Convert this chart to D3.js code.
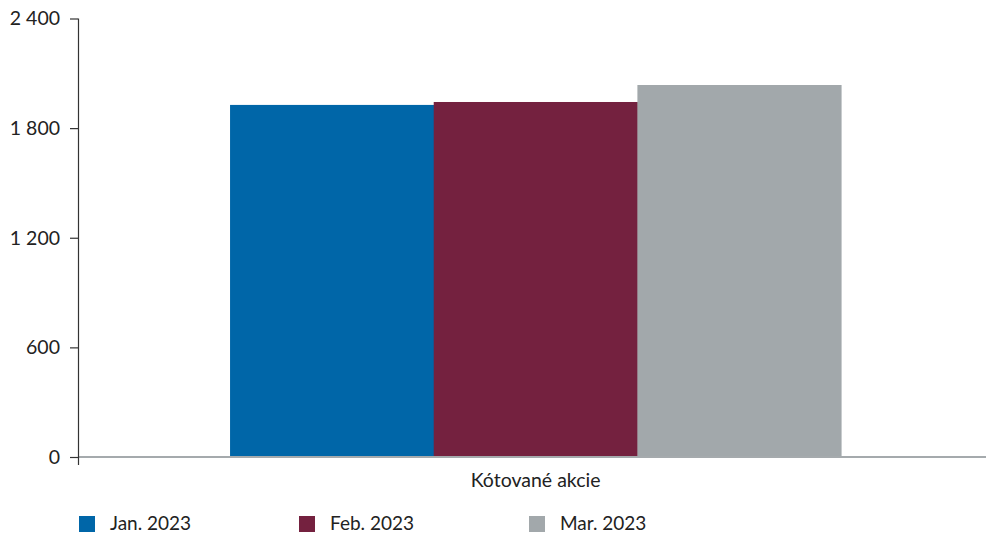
<!DOCTYPE html>
<html>
<head>
<meta charset="utf-8">
<script src="https://cdn.jsdelivr.net/npm/d3@7"></script>
<style>
  html, body { margin: 0; padding: 0; background: #fff; }
  svg { display: block; font-family: Lato, "Open Sans", sans-serif; }
</style>
</head>
<body>
<svg id="chart" width="986" height="534"></svg>
<script>
const categories = ["Kótované akcie"];
const seriesNames = ["Jan. 2023", "Feb. 2023", "Mar. 2023"];
const seriesValues = [1927, 1943, 2036];
const seriesColors = ["#0066a8", "#74213f", "#a2a8ab"];
const yTicks = [0, 600, 1200, 1800, 2400];

(function () {
const svg = d3.select("#chart");
const mLeft = 78, mRight = 986, mTop = 18.5, mBottom = 457;

const y = d3.scaleLinear().domain([0, 2400]).range([mBottom, mTop]);
const x0 = d3.scaleBand().domain(categories).range([mLeft, mRight])
  .paddingInner(0).paddingOuter(0.243).align(0.512);
const x1 = d3.scaleBand().domain(seriesNames).range([0, x0.bandwidth()]).padding(0);

const fmt = v => d3.format(",")(v).replace(/,/g, " ");

// bars
const g = svg.append("g");
categories.forEach((c) => {
  g.selectAll(null).data(seriesNames).enter().append("rect")
    .attr("x", d => x0(c) + x1(d))
    .attr("width", x1.bandwidth() + 0.5)
    .attr("y", (d, i) => y(seriesValues[i]))
    .attr("height", (d, i) => y(0) - y(seriesValues[i]))
    .attr("fill", (d, i) => seriesColors[i]);
});

// baseline
svg.append("line")
  .attr("x1", mLeft).attr("x2", mRight)
  .attr("y1", y(0)).attr("y2", y(0))
  .attr("stroke", "#a5aaad").attr("stroke-width", 2);

// y axis
const yAxis = d3.axisLeft(y).tickValues(yTicks).tickFormat(fmt).tickSize(8).tickPadding(10);
const ya = svg.append("g").attr("transform", `translate(${mLeft},0)`).call(yAxis);
ya.select(".domain").remove();
ya.append("line").attr("x1", 0.5).attr("x2", 0.5).attr("y1", mTop).attr("y2", mBottom + 8)
  .attr("stroke", "#333").attr("stroke-width", 1.2);
ya.selectAll(".tick line").attr("stroke", "#333").attr("stroke-width", 1.2);
ya.selectAll(".tick text").attr("fill", "#222").style("font-size", "19.5px")
  .style("font-family", "Lato, sans-serif");

// category label
svg.selectAll(".cat").data(categories).enter().append("text")
  .attr("class", "cat")
  .attr("x", d => x0(d) + x0.bandwidth() / 2)
  .attr("y", 487)
  .attr("text-anchor", "middle")
  .attr("fill", "#222")
  .style("font-size", "19.5px")
  .text(d => d);

// legend
const legendX = [79, 299, 529];
const lg = svg.append("g");
seriesNames.forEach((s, i) => {
  const item = lg.append("g").attr("transform", `translate(${legendX[i]},516)`);
  item.append("rect").attr("width", 16).attr("height", 16).attr("fill", seriesColors[i]);
  item.append("text").attr("x", 31).attr("y", 13.5).attr("fill", "#222")
    .style("font-size", "19px").text(s);
});
})();
</script>
</body>
</html>
